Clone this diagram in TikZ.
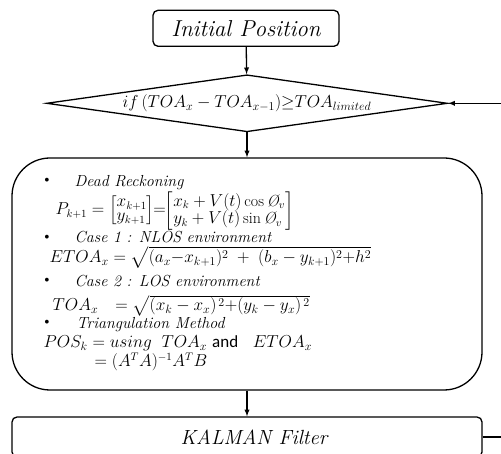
\documentclass[tikz,border=0pt]{standalone}
\usepackage{amsmath,amssymb}
\usepackage{fontspec}
\newfontfamily\andfont{Carlito}
\usetikzlibrary{shapes.geometric}
\newcommand\phiv{\text{\itshape\O}_v}

\begin{document}
\begin{tikzpicture}[x=1pt,y=-1pt,line width=1.3pt,
  startbox/.style={draw, rounded corners=5pt, minimum width=186pt, minimum height=36pt, inner sep=0pt, font=\fontsize{23}{26}\selectfont\itshape},
  decision/.style={draw, diamond, aspect=7, minimum width=401pt, minimum height=57pt, inner sep=0pt, font=\fontsize{18}{20}\selectfont},
  procbox/.style={draw, rounded corners=38pt, minimum width=470pt, minimum height=232pt},
  dot/.style={anchor=center, inner sep=0pt, font=\fontsize{14}{14}\selectfont},
  caption/.style={anchor=base west, inner sep=0pt, font=\fontsize{16}{18}\selectfont\itshape},
  eqn/.style={anchor=base west, inner sep=0pt, font=\fontsize{17}{17}\selectfont},
  flow/.style={-latex, line width=1.3pt}]
\useasboundingbox (0,0) rectangle (501,454);
\node[startbox] (init) at (246,28.3) {Initial Position};
\node[decision] (cond) at (247,103.3) {$if\,(TOA_x - TOA_{x-1}){\geq}TOA_{limited}$};
\node[procbox] (proc) at (247,274) {};
\node[startbox, minimum width=470pt, minimum height=40pt, font=\fontsize{20.5}{24}\selectfont\itshape] (kal) at (247,437) {\hspace*{14pt}KALMAN Filter};
%
%
%
\node[dot] (b1) at (47,181) {\textbullet};
\node[caption] (dr) at (74,187) {Dead Reckoning};
\node[eqn, font=\fontsize{16}{14}\selectfont] (drEq) at (55,215) {$P_{k+1} = \left[\begin{array}{@{}l@{}} x_{k+1}\\ y_{k+1}\end{array}\right]\!\!=\!\!\left[\begin{array}{@{}l@{}} x_k + V(t)\cos\phiv\\ y_k + V(t)\sin\phiv\end{array}\right]$};
\node[dot] (b2) at (47,238) {\textbullet};
\node[caption] (c1) at (74,243) {Case 1 : NLOS environment};
\node[eqn, font=\fontsize{18}{18}\selectfont] (c1Eq) at (49,263) {$ETOA_x = \sqrt{(a_x{-}x_{k+1})^2 \;+\; (b_x - y_{k+1})^2{+}h^2}$};
\node[dot] (b3) at (47,281) {\textbullet};
\node[caption] (c2) at (74,287) {Case 2 : LOS environment};
\node[eqn] (c2Eq) at (52,311) {$TOA_x\;\;\, = \sqrt{(x_k - x_x)^{\,2}{+}(y_k - y_x)^{\,2}}$};
\node[dot] (b4) at (47,323) {\textbullet};
\node[caption] (tm) at (76,329) {Triangulation Method};
\node[eqn] (tmEq) at (43,348) {$POS_k = using\;\; TOA_x$ {\andfont and} $\;\; ETOA_x$};
\node[eqn, font=\fontsize{16}{16}\selectfont] (tmRes) at (94,367) {$= (A^TA)^{-1}A^TB$};
%
%
%
\coordinate (fb) at (515,0);
\draw[flow] (init) -- (cond);
\draw[flow] (cond) -- (proc);
\draw[flow] (proc) -- (kal);
\draw[flow] (kal.east) -- (kal.east -| fb) -- (fb |- cond.east) -- (cond.east);
\end{tikzpicture}
\end{document}
